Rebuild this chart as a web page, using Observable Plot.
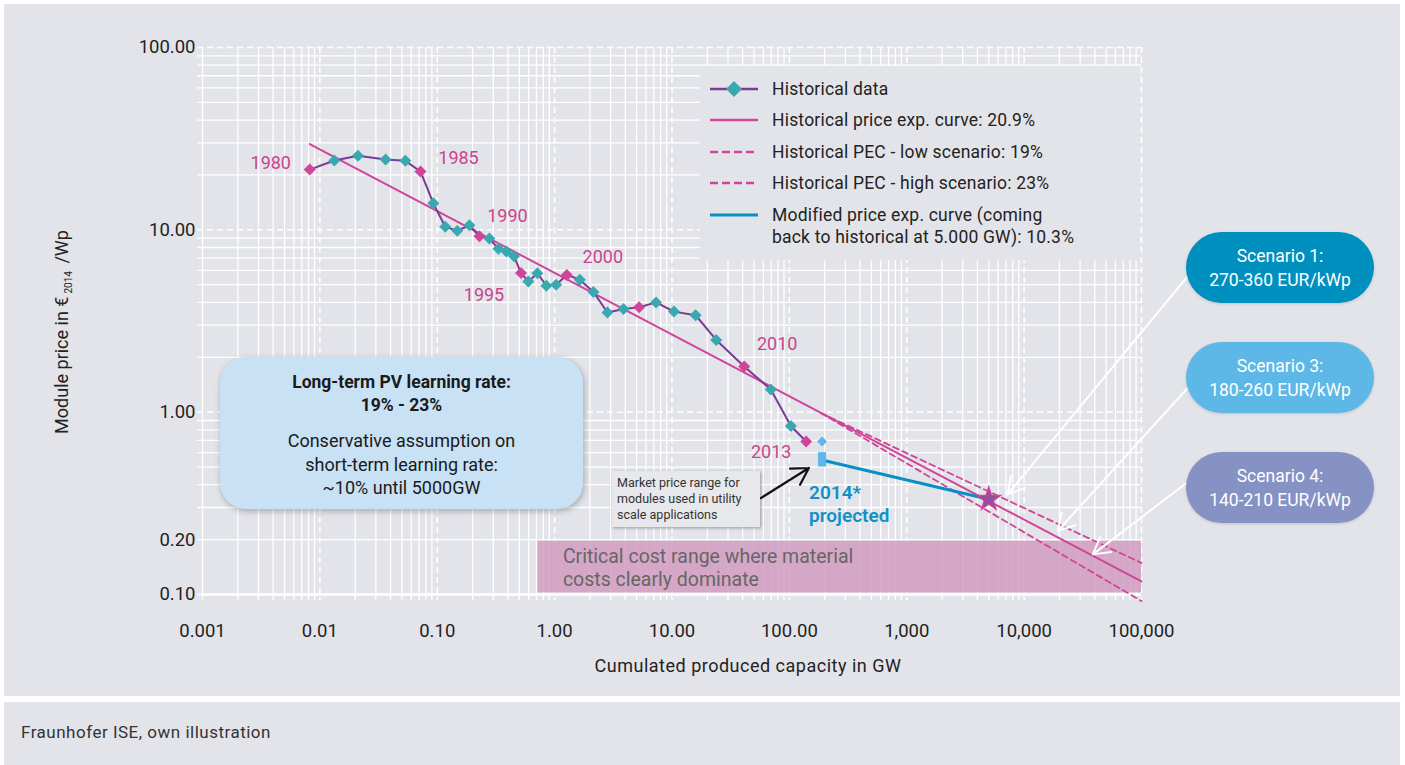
<!DOCTYPE html>
<html><head><meta charset="utf-8">
<script src="https://cdn.jsdelivr.net/npm/d3@7"></script>
<script src="https://cdn.jsdelivr.net/npm/@observablehq/plot@0.6"></script>
<style>
body{margin:0;background:#fff;font-family:Roboto,"Noto Sans",sans-serif;width:1405px;height:765px;overflow:hidden;position:relative;color:#222}
#panel{position:absolute;left:4px;top:4px;width:1396px;height:692px;background:#e3e4e9}
#footer{position:absolute;left:4px;top:702px;width:1396px;height:63px;background:#e3e4e9}
#footer span{position:absolute;left:17px;top:20px;font-size:17px;letter-spacing:0.5px;color:#333}
.abs{position:absolute}
#legend{left:700px;top:66px;width:440px;height:194px;background:#e3e4e9}
.lg{position:absolute;left:0;font-size:17.5px;color:#222;line-height:22px;letter-spacing:0.2px}
.lg svg{position:absolute;left:10px}
.lg span{position:absolute;left:72px;white-space:nowrap}
#bluebox{left:220px;top:357px;width:363px;height:152px;border-radius:26px;background:#c9e1f4;box-shadow:1px 2px 6px rgba(0,0,0,0.28);text-align:center;font-size:18px;color:#1a1a1a}
#note{left:612px;top:471px;width:148px;height:56px;background:#e7e8eb;box-shadow:1px 1px 3px rgba(0,0,0,0.35);font-size:12.5px;line-height:16px;color:#333;padding:4px 0 0 5px;box-sizing:border-box}
.scen{left:1186px;width:188px;height:71px;border-radius:36px;color:#fff;text-align:center;font-size:17.5px;line-height:24px;box-sizing:border-box;padding-top:12px;box-shadow:0 1px 3px rgba(0,0,0,0.15)}
#ylab{left:62px;top:332px;transform:translate(-50%,-50%) rotate(-90deg);white-space:nowrap;font-size:18px}
#xlab{left:748px;top:665px;transform:translate(-50%,-50%);white-space:nowrap;font-size:18px;letter-spacing:0.5px}
</style></head>
<body>
<div id="panel"></div>
<div id="footer"><span>Fraunhofer ISE, own illustration</span></div>
<script>
// ---------- data ----------
const years = [1980,1981,1982,1983,1984,1985,1986,1987,1988,1989,1990,1991,1992,1993,1994,1995,1996,1997,1998,1999,2000,2001,2002,2003,2004,2005,2006,2007,2008,2009,2010,2011,2012,2013];
const capacityGW = [0.0082,0.0133,0.0211,0.0363,0.0535,0.072,0.0927,0.117,0.148,0.188,0.229,0.278,0.332,0.389,0.451,0.517,0.597,0.713,0.851,1.03,1.27,1.64,2.14,2.82,3.86,5.25,7.32,10.4,15.9,23.8,41.2,69.5,103,139];
const priceEUR = [21.4,24.0,25.5,24.3,23.9,20.9,13.97,10.4,9.87,10.6,9.22,8.96,7.87,7.60,7.16,5.80,5.20,5.78,4.94,5.0,5.66,5.33,4.56,3.52,3.68,3.76,4.0,3.56,3.40,2.49,1.78,1.33,0.84,0.69];
const highlightYears = [1980,1985,1990,1995,2000,2005,2010,2013];
const labelYears = [1980,1985,1990,1995,2000,2010,2013];

const pecHistX = [0.0082, 100000];  const pecHistY = [29.5, 0.118];   // 20.9 %
const pecLowX  = [185, 100000];     const pecLowY  = [0.99, 0.149];   // 19 %
const pecHighX = [185, 100000];     const pecHighY = [0.99, 0.092];   // 23 %
const modX = [205, 5000];           const modY = [0.54, 0.333];       // 10.3 %

const cap2014 = 190; const price2014 = 0.69; const range2014 = [0.5, 0.6];
const criticalX = [0.72, 100000]; const criticalY = [0.102, 0.196];

const xTicks = [0.001,0.01,0.1,1,10,100,1000,10000,100000];
const xTickLabels = ["0.001","0.01","0.10","1.00","10.00","100.00","1,000","10,000","100,000"];
const yTicks = [0.1,0.2,0.5,1,10,100];
const yTickLabels = ["0.10","0.20","0.50","1.00","10.00","100.00"];

// annotation anchors (data units)
const scenarioArrowFromX = [243000,243000,243000];
const scenarioArrowFromY = [5.49,1.34,0.41];
const scenarioArrowToX = [7245,19300,38500];
const scenarioArrowToY = [0.354,0.223,0.166];
const noteArrowFrom = [57.2,0.338]; const noteArrowTo = [146.6,0.494];

// ---------- derived ----------
const hist = years.map((yr,i)=>({year:yr, x:capacityGW[i], y:priceEUR[i]}));
const hl = new Set(highlightYears);
const labelOffsets = {1980:[-39,-6],1985:[38,-13],1990:[28,-20],1995:[-37,22],2000:[36,-18],2010:[33,-22],2013:[-35,11]};
const seg = (xs,ys)=>xs.map((x,i)=>({x, y:ys[i]}));
const minorX=[], minorY=[];
for (let e=-3;e<5;e++) for (let k=2;k<10;k++) minorX.push(k*Math.pow(10,e));
for (let e=-1;e<2;e++) for (let k=2;k<10;k++) minorY.push(k*Math.pow(10,e));
const dashedX = xTicks.slice(1), dashedY = [1,10,100];
const xLab = new Map(xTicks.map((v,i)=>[v,xTickLabels[i]]));
const yLab = new Map(yTicks.map((v,i)=>[v,yTickLabels[i]]));
const arrows = scenarioArrowFromX.map((x,i)=>({x1:x,y1:scenarioArrowFromY[i],x2:scenarioArrowToX[i],y2:scenarioArrowToY[i]}));

const pink="#cf459a", teal="#3aa8b0", purple="#7b3a96", blue="#0a8fc4", light="#5fb6e8";

const yearTextMarks = labelYears.map(yr=>{
  const d = hist.find(h=>h.year===yr);
  return Plot.text([d], {x:"x", y:"y", text:()=>String(yr), dx:labelOffsets[yr][0], dy:labelOffsets[yr][1], fill:"#c9448e", fontSize:18});
});

const chart = Plot.plot({
  width:1396, height:692,
  marginLeft:198, marginRight:259, marginTop:43, marginBottom:102,
  style:{fontFamily:'Roboto,"Noto Sans",sans-serif', fontSize:"17px", background:"transparent", overflow:"visible", color:"#222"},
  x:{type:"log", domain:[0.001,100000]},
  y:{type:"log", domain:[0.1,100]},
  marks:[
    Plot.ruleX(minorX.concat([0.001]), {stroke:"white", strokeWidth:1.3, insetBottom:-6}),
    Plot.ruleY(minorY.concat([0.1]), {stroke:"white", strokeWidth:1.3, insetLeft:-5}),
    Plot.ruleX(dashedX, {stroke:"white", strokeWidth:1.5, strokeDasharray:"6,4", insetBottom:-6}),
    Plot.ruleY(dashedY, {stroke:"white", strokeWidth:1.5, strokeDasharray:"6,4", insetLeft:-5}),
    Plot.ruleY([0.1], {stroke:"white", strokeWidth:2.5}),
    Plot.rect([0], {x1:()=>criticalX[0], x2:()=>criticalX[1], y1:()=>criticalY[0], y2:()=>criticalY[1], fill:"#d29cc0", fillOpacity:0.85}),
    Plot.text([0], {x:()=>criticalX[0], y:()=>criticalY[1], text:()=>"Critical cost range where material\ncosts clearly dominate", textAnchor:"start", lineAnchor:"top", dx:25, dy:5, fontSize:19.5, lineHeight:1.2, fill:"#666"}),
    Plot.axisX({ticks:xTicks, tickFormat:d=>xLab.get(d), tickSize:0, tickPadding:29, fontSize:18.5, label:null}),
    Plot.axisY({ticks:yTicks, tickFormat:d=>yLab.get(d), tickSize:0, tickPadding:7, fontSize:18.5, label:null}),
    Plot.line(seg(pecLowX,pecLowY), {x:"x", y:"y", stroke:pink, strokeWidth:1.8, strokeDasharray:"6,4"}),
    Plot.line(seg(pecHighX,pecHighY), {x:"x", y:"y", stroke:pink, strokeWidth:1.8, strokeDasharray:"6,4"}),
    Plot.line(seg(pecHistX,pecHistY), {x:"x", y:"y", stroke:pink, strokeWidth:2}),
    Plot.line(seg(modX,modY), {x:"x", y:"y", stroke:blue, strokeWidth:3}),
    Plot.line(hist, {x:"x", y:"y", stroke:purple, strokeWidth:2}),
    Plot.dot(hist.filter(d=>!hl.has(d.year)), {x:"x", y:"y", symbol:"diamond2", r:5.4, fill:teal}),
    Plot.dot(hist.filter(d=>hl.has(d.year)), {x:"x", y:"y", symbol:"diamond2", r:5.4, fill:pink}),
    ...yearTextMarks,
    Plot.dot([0], {x:()=>cap2014, y:()=>price2014, symbol:"diamond2", r:4.5, fill:light}),
    Plot.ruleX([0], {x:()=>cap2014, y1:()=>range2014[0], y2:()=>range2014[1], stroke:light, strokeWidth:8}),
    Plot.text([0], {x:()=>cap2014, y:()=>range2014[0], text:()=>"2014*\nprojected", textAnchor:"start", lineAnchor:"top", dx:-13, dy:16, fontSize:19, lineHeight:1.2, fill:"#1190c8", fontWeight:600}),
    Plot.dot([0], {x:()=>modX[1], y:()=>modY[1], symbol:"star", r:7.5, fill:"#9a4c9e", stroke:pink, strokeWidth:1.2}),
    Plot.arrow(arrows, {x1:"x1", y1:"y1", x2:"x2", y2:"y2", stroke:"white", strokeWidth:2, headLength:14}),
    Plot.arrow([0], {x1:()=>noteArrowFrom[0], y1:()=>noteArrowFrom[1], x2:()=>noteArrowTo[0], y2:()=>noteArrowTo[1], stroke:"#111", strokeWidth:2.2, headLength:14})
  ]
});
chart.style.position="absolute"; chart.style.left="0px"; chart.style.top="0px";
document.getElementById("panel").appendChild(chart);

// ---------- overlays ----------
function add(html){ const d=document.createElement("div"); d.innerHTML=html; document.body.appendChild(d.firstElementChild); }
const legendItems = [
  {label:"Historical data", kind:"hist", top:12},
  {label:"Historical price exp. curve: 20.9%", kind:"solid", top:43},
  {label:"Historical PEC - low scenario: 19%", kind:"dash", top:75},
  {label:"Historical PEC - high scenario: 23%", kind:"dash", top:106},
  {label:"Modified price exp. curve (coming<br>back to historical at 5.000 GW): 10.3%", kind:"blue", top:138}
];
let lg = '<div id="legend" class="abs">';
for (const it of legendItems){
  let sw;
  if (it.kind==="hist") sw = `<line x1="0" x2="48" y1="11" y2="11" stroke="${purple}" stroke-width="2.5"/><path d="M24 3 L32 11 L24 19 L16 11Z" fill="${teal}"/>`;
  else if (it.kind==="solid") sw = `<line x1="0" x2="48" y1="11" y2="11" stroke="${pink}" stroke-width="2.5"/>`;
  else if (it.kind==="dash") sw = `<line x1="0" x2="48" y1="11" y2="11" stroke="${pink}" stroke-width="2.5" stroke-dasharray="8,4"/>`;
  else sw = `<line x1="0" x2="48" y1="11" y2="11" stroke="${blue}" stroke-width="3"/>`;
  lg += `<div class="lg" style="top:${it.top}px"><svg width="50" height="22">${sw}</svg><span>${it.label}</span></div>`;
}
lg += '</div>';
add(lg);
add(`<div id="bluebox" class="abs"><div style="padding-top:14px;font-weight:700;line-height:23px;font-size:17.5px">Long-term PV learning rate:<br>19% - 23%</div><div style="margin-top:12px;line-height:23.5px">Conservative assumption on<br>short-term learning rate:<br>~10% until 5000GW</div></div>`);
add(`<div id="note" class="abs">Market price range for<br>modules used in utility<br>scale applications</div>`);
const scen = [["Scenario 1:","270-360 EUR/kWp","#0090c0",232],["Scenario 3:","180-260 EUR/kWp","#5db8e7",342],["Scenario 4:","140-210 EUR/kWp","#8592c3",452]];
for (const s of scen) add(`<div class="abs scen" style="top:${s[3]}px;background:${s[2]}">${s[0]}<br>${s[1]}</div>`);
add(`<div id="ylab" class="abs">Module price in €<span style="font-size:10px;vertical-align:-4px;margin:0 3px">2014</span> /Wp</div>`);
add(`<div id="xlab" class="abs">Cumulated produced capacity in GW</div>`);
</script>
</body></html>
